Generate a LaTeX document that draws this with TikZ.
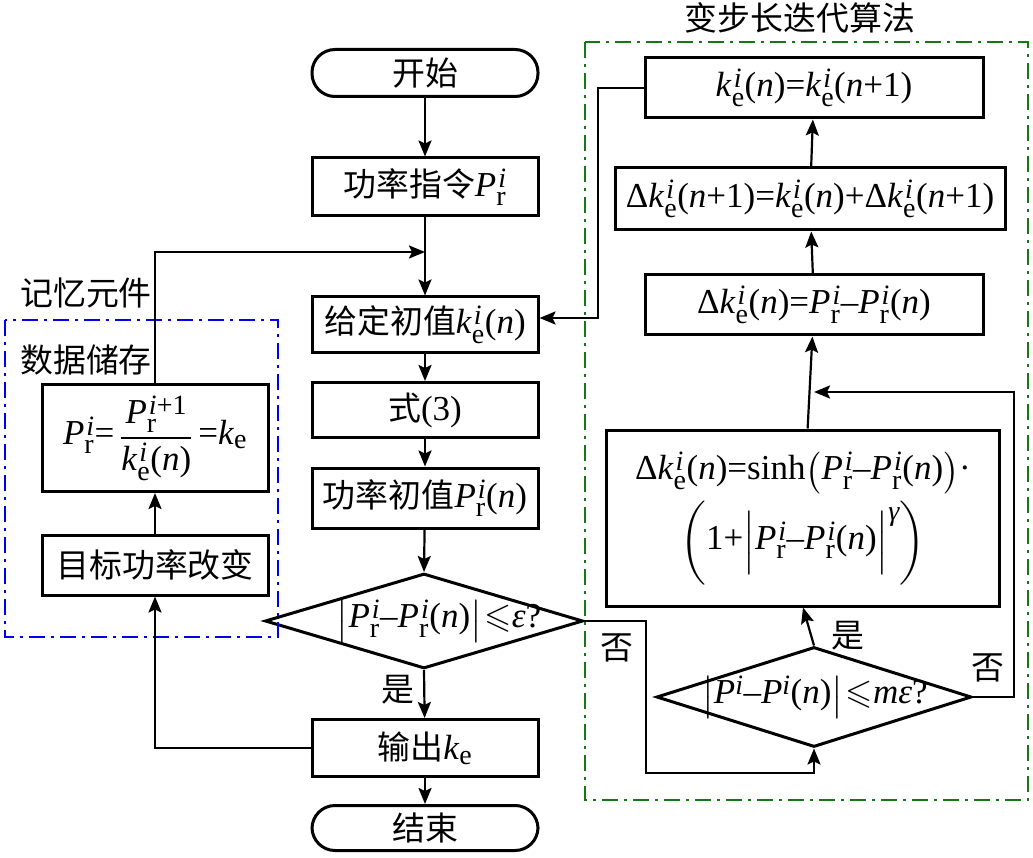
\documentclass[tikz,border=0pt]{standalone}
\usepackage{amsmath,amssymb}
\usepackage{fontspec}
\setmainfont{Liberation Serif}
\newfontfamily\cjk[Scale=0.94]{Noto Sans CJK SC}
\usetikzlibrary{arrows.meta,shapes.geometric}
\DeclareMathSizes{35}{35}{28}{21}
\newcommand{\subsup}[2]{$_{\text{#1}}^{\kern2pt\text{\itshape #2}}$}
\newcommand{\Pri}{\textit{P}\subsup{r}{i}}
\newcommand{\kei}{\textit{k}\subsup{e}{i}}
\newcommand{\nn}{(\textit{n})}
\tikzset{
  box/.style={draw, line width=3pt, minimum width=226pt, minimum height=58pt, inner sep=2pt},
  term/.style={box, rounded corners=23pt, minimum height=47pt},
  dia/.style={diamond, draw, line width=3pt, inner sep=0pt},
  conn/.style={line width=2.2pt},
  arr/.style={conn, -{Stealth[length=16pt,width=13pt,inset=3pt]}},
  dashdot/.style={line width=2.4pt, dash pattern=on 16pt off 6pt on 3pt off 6pt},
  lbl/.style={inner sep=0pt}
}
\definecolor{dgreen}{RGB}{20,120,20}
\definecolor{dblue}{RGB}{0,0,240}
\begin{document}
\begin{tikzpicture}[x=1pt,y=-1pt,font=\fontsize{35}{42}\selectfont]
\useasboundingbox (0,0) rectangle (1033,858);
% main column
\node[term] (start) at (425,73) {{\cjk 开始}};
\node[box] (cmd) at (425,187) {{\cjk 功率指令}\Pri};
\node[box, minimum height=56pt] (init) at (425,325) {{\cjk 给定初值}\kei\nn};
\node[box, minimum height=55pt] (eq3) at (425,410) {{\cjk 式}(3)};
\node[box, minimum height=60pt] (p0) at (425,498) {{\cjk 功率初值}\Pri\nn};
\node[dia, minimum width=318pt, minimum height=95pt] (d1) at (424,621) {};
\node[lbl] (d1t) at (439,621) {$\left|\text{\Pri–\Pri\nn}\right|\!\leqslant$\textit{ε}?};
\node[box, minimum height=57pt] (out) at (425,748) {{\cjk 输出}\textit{k}$_{\text{e}}$};
\node[term, minimum height=45pt] (end) at (425,828) {{\cjk 结束}};
% left: memory
\draw[dblue, dashdot] (5,320) rectangle (278,637);
\node[lbl] (mem) at (86,293) {{\cjk 记忆元件}};
\node[lbl] (data) at (86,360) {{\cjk 数据储存}};
\node[box, minimum height=107pt] (store) at (155,438) {\Pri=\,$\dfrac{\text{\textit{P}$_{\text{r}}^{\kern2pt\text{\itshape i}\text{+1}}$}}{\text{\kei\nn}}$\,=\textit{k}$_{\text{e}}$};
\node[box, minimum height=60pt] (chg) at (155,565) {{\cjk 目标功率改变}};
% right: variable step iteration
\draw[dgreen, dashdot] (585,42) rectangle (1028,800);
\node[lbl] (title) at (800,18) {{\cjk 变步长迭代算法}};
\node[box, minimum width=338pt, minimum height=60pt] (r1) at (814,88) {\kei\nn=\kei(\textit{n}+1)};
\node[box, minimum width=390pt, minimum height=62pt, inner sep=0pt] (r2) at (810,199) {Δ\kei(\textit{n}+1)=\kei\nn+Δ\kei(\textit{n}+1)};
\node[box, minimum width=338pt, minimum height=60pt] (r3) at (814,305) {Δ\kei\nn=\Pri–\Pri\nn};
\node[box, minimum width=393pt, minimum height=176pt, align=center] (r4) at (803,518)
  {Δ\kei\nn=sinh$\Bigl(\text{\Pri–\Pri\nn}\Bigr)$·\\[4pt]
   $\Biggl(\text{1+}\biggl|\text{\Pri–\Pri\nn}\biggr|^{\text{\itshape γ}}\Biggr)$};
\node[dia, minimum width=315pt, minimum height=100pt] (d2) at (814,697) {};
\node[lbl] (d2t) at (815,697) {$\left|\text{\textit{P}$^{\text{\itshape i}}$–\textit{P}$^{\text{\itshape i}}$\nn}\right|\!\leqslant$\textit{mε}?};
% coordinates
\coordinate (j1) at (425,252);
\coordinate (c1) at (646,773);
\coordinate (j2) at (814,392);
\coordinate (c2) at (1014,392);
\coordinate (c3) at (598,318);
% connectors
\draw[arr] (start) -- (cmd);
\draw[arr] (cmd) -- (init);
\draw[arr] (init) -- (eq3);
\draw[arr] (eq3) -- (p0);
\draw[arr] (p0) -- (d1.north);
\draw[arr] (d1.south) -- (out);
\draw[arr] (out) -- (end);
\draw[arr] (out.west) -| (chg.south);
\draw[arr] (chg) -- (store);
\draw[arr] (store.north) |- (j1);
\draw[arr] (d1.east) -| (c1) -| (d2.south);
\draw[arr] (d2.north) -- (r4.south);
\draw[arr] (d2.east) -| (c2) -- (j2);
\draw[arr] (r4) -- (r3);
\draw[arr] (r3) -- (r2);
\draw[arr] (r2) -- (r1);
\draw[arr] (r1.west) -| (c3) -- (init.east |- c3);
% branch labels
\node[lbl] (y1) at (398,690) {{\cjk 是}};
\node[lbl] (n1) at (617,648) {{\cjk 否}};
\node[lbl] (y2) at (848,636) {{\cjk 是}};
\node[lbl] (n2) at (988,668) {{\cjk 否}};
\end{tikzpicture}
\end{document}
